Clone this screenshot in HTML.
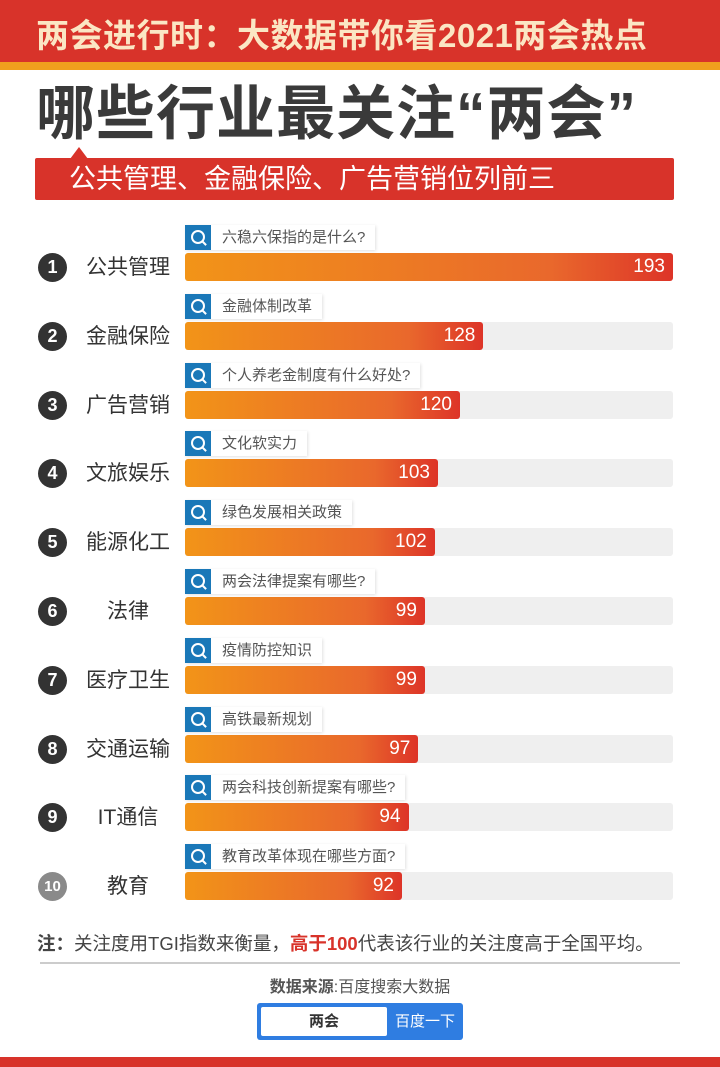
<!DOCTYPE html>
<html><head><meta charset="utf-8"><style>
body{margin:0;width:720px;height:1067px;position:relative;background:#fff;font-family:"Liberation Sans","Noto Sans CJK SC",sans-serif;overflow:hidden}
.abs{position:absolute}
</style></head><body>
<div class="abs" style="left:0;top:0;width:720px;height:62px;background:#d8332a"></div>
<div class="abs" style="left:36px;top:9px;font-size:33px;font-weight:bold;color:#fbe6c4;white-space:nowrap;letter-spacing:0.5px">两会进行时：大数据带你看2021两会热点</div>
<div class="abs" style="left:0;top:62px;width:720px;height:8px;background:#f0a01e"></div>
<div class="abs" style="left:36px;top:78px;font-size:59px;font-weight:bold;color:#3a3a3a;white-space:nowrap;line-height:72px;letter-spacing:1px">哪些行业最关注“两会”</div>
<div class="abs" style="left:70px;top:147px;width:0;height:0;border-left:9px solid transparent;border-right:9px solid transparent;border-bottom:12px solid #d8332a"></div>
<div class="abs" style="left:35px;top:158px;width:639px;height:42px;background:#d8332a;border-radius:2px"></div>
<div class="abs" style="left:69px;top:162px;font-size:27px;color:#fff;white-space:nowrap;line-height:34px">公共管理、金融保险、广告营销位列前三</div>
<div id="chart"></div>
<div class="abs" style="left:37px;top:930px;font-size:18.5px;color:#444;white-space:nowrap"><b>注：</b>关注度用TGI指数来衡量，<b style="color:#d8332a">高于100</b>代表该行业的关注度高于全国平均。</div>
<div class="abs" style="left:40px;top:962px;width:640px;height:2px;background:#ccc"></div>
<div class="abs" style="left:0;top:973px;width:720px;text-align:center;font-size:16px;color:#555"><b>数据来源</b>:百度搜索大数据</div>
<div class="abs" style="left:257px;top:1003px;width:206px;height:37px;background:#2f7de1;border-radius:3px"></div>
<div class="abs" style="left:261px;top:1007px;width:126px;height:29px;background:#fff;border-radius:2px;text-align:center;line-height:29px;font-size:15px;font-weight:bold;color:#333">两会</div>
<div class="abs" style="left:389px;top:1007px;width:72px;height:29px;text-align:center;line-height:29px;font-size:15px;color:#fff">百度一下</div>
<div class="abs" style="left:0;top:1057px;width:720px;height:10px;background:#d8332a"></div>
<script>
const industries=["公共管理","金融保险","广告营销","文旅娱乐","能源化工","法律","医疗卫生","交通运输","IT通信","教育"];
const values=[193,128,120,103,102,99,99,97,94,92];
const queries=["六稳六保指的是什么?","金融体制改革","个人养老金制度有什么好处?","文化软实力","绿色发展相关政策","两会法律提案有哪些?","疫情防控知识","高铁最新规划","两会科技创新提案有哪些?","教育改革体现在哪些方面?"];
const X0=185,TRACK=488,Y0=253,PITCH=68.8,BH=28;
// piecewise-linear axis (the source graphic uses a non-uniform scale)
const SD=[92,103,120,193], SR=[217,253,275,488];
function xw(v){
  let k=0;
  while(k<SD.length-2 && v>SD[k+1]) k++;
  const w=SR[k]+(v-SD[k])*(SR[k+1]-SR[k])/(SD[k+1]-SD[k]);
  return Math.max(0,Math.min(TRACK,w));
}
function yb(i){return Y0+i*PITCH;}
const c=document.getElementById('chart');
industries.forEach((name,i)=>{
  const y=yb(i);
  const circ=document.createElement('div');
  circ.className='abs';
  
  
  circ.style.cssText=`left:38px;top:${y}px;width:29px;height:29px;border-radius:50%;background:${i==9?'#8a8a8a':'#333'};color:#fff;font-weight:bold;font-size:${i==9?15:18}px;text-align:center;line-height:29px`;
  circ.textContent=i+1;c.appendChild(circ);
  const lab=document.createElement('div');
  lab.className='abs';
  
  
  lab.style.cssText=`left:70px;top:${y}px;width:116px;text-align:center;font-size:21px;color:#333;line-height:29px;white-space:nowrap`;
  lab.textContent=name;c.appendChild(lab);
  const tr=document.createElement('div');
  tr.className='abs';
  
  
  tr.style.cssText=`left:${X0}px;top:${y}px;width:${TRACK}px;height:${BH}px;background:#efefef;border-radius:3px`;
  c.appendChild(tr);
  const b=document.createElement('div');
  b.className='abs';
  
  
  b.style.cssText=`left:${X0}px;top:${y}px;width:${xw(values[i])}px;height:${BH}px;background:linear-gradient(90deg,#f29418,#e9682c 75%,#dd3428);border-radius:3px;color:#fff;font-size:19px;text-align:right;line-height:${BH}px;box-sizing:border-box;padding-right:8px`;
  b.textContent=values[i];c.appendChild(b);
  const q=document.createElement('div');
  q.className='abs';
  
  
  q.style.cssText=`left:${X0}px;top:${y-28}px;height:25px;display:flex;background:#fff;box-shadow:1px 1px 3px rgba(0,0,0,0.12)`;
  q.innerHTML=`<div style="width:26px;height:25px;background:#1a78b8;position:relative"><div style="position:absolute;left:6px;top:5px;width:10px;height:10px;border:2px solid #fff;border-radius:50%"></div><div style="position:absolute;left:16px;top:17px;width:6px;height:2px;background:#fff;transform:rotate(45deg)"></div></div><div style="padding:0 10px 0 11px;font-size:15px;color:#555;line-height:25px;white-space:nowrap">${queries[i]}</div>`;
  c.appendChild(q);
});
</script>
</body></html>
